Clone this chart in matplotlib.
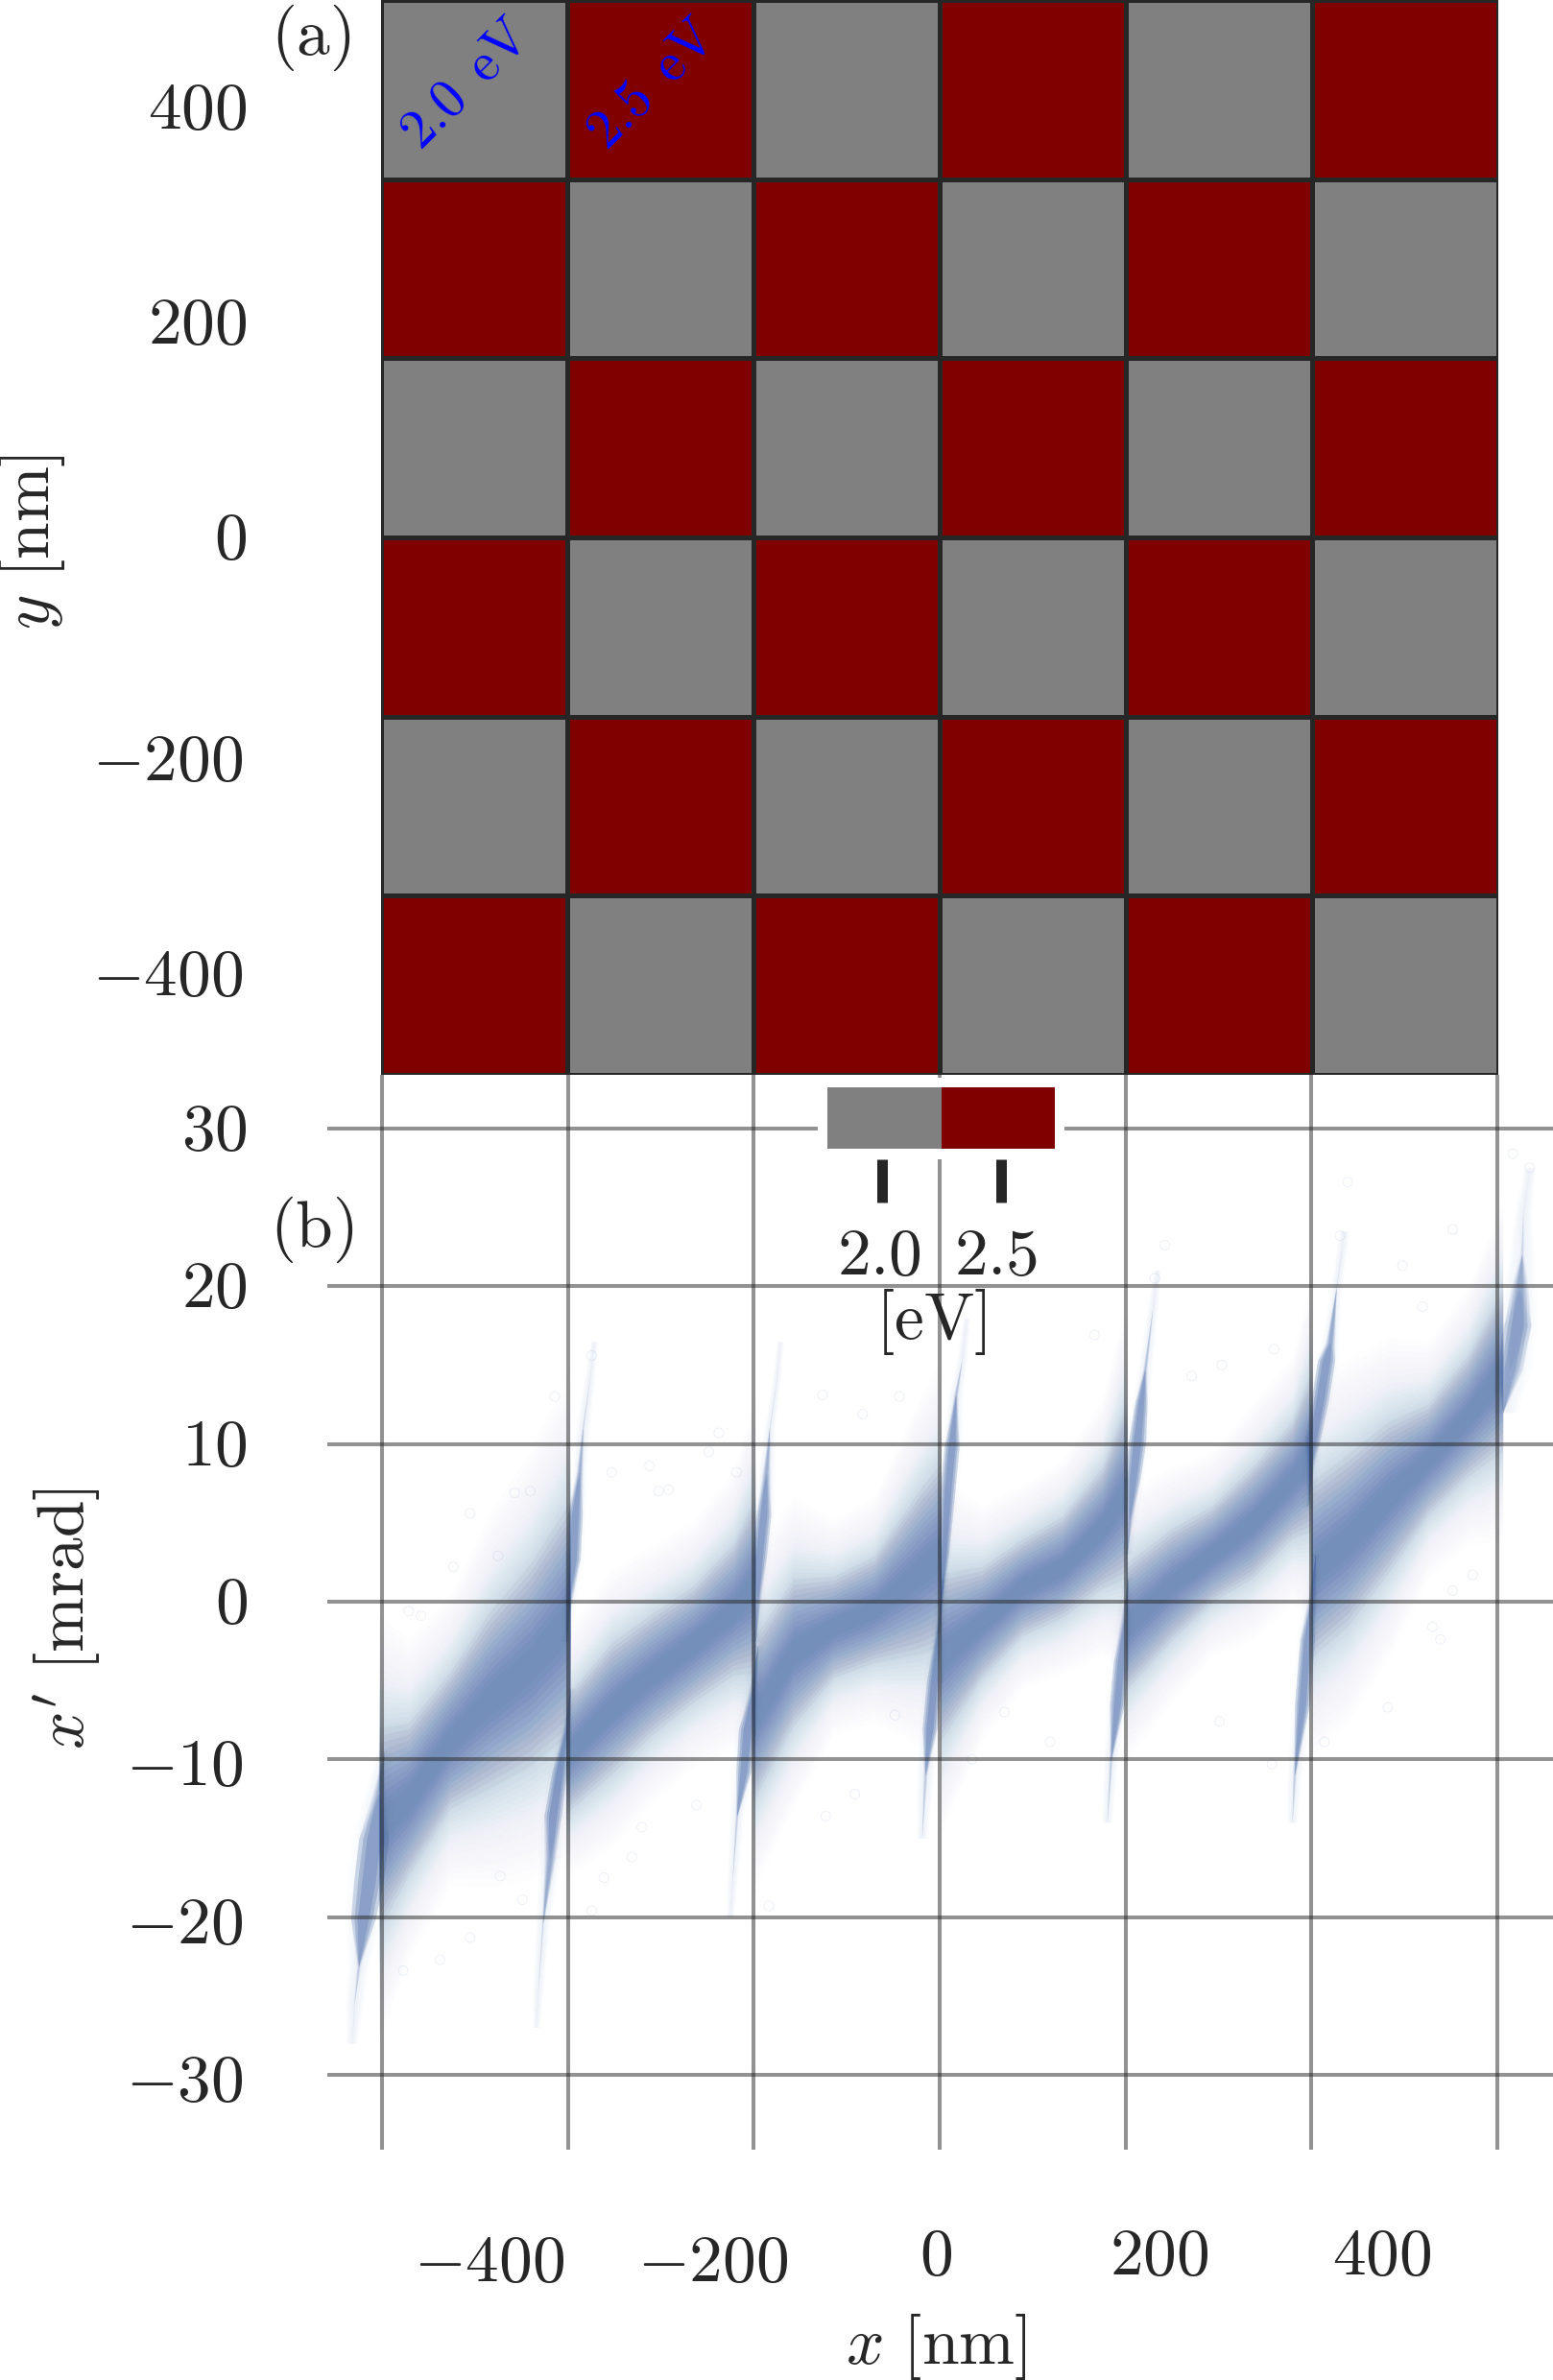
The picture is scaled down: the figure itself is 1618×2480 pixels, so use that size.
import numpy as np
import matplotlib
matplotlib.use("Agg")
import matplotlib.pyplot as plt
from matplotlib.colors import ListedColormap, BoundaryNorm

plt.rcParams['mathtext.fontset'] = 'cm'
plt.rcParams['font.family'] = ['DejaVu Serif']

W, H = 1618, 2480
DARK = '#262626'
BLUE = '#4c72b0'
FS = 50

# top panel
edges = [-500, -333.3, -166.7, 0, 166.7, 333.3, 500]
energies = [[2.5, 2.0, 2.5, 2.0, 2.5, 2.0],
            [2.0, 2.5, 2.0, 2.5, 2.0, 2.5],
            [2.5, 2.0, 2.5, 2.0, 2.5, 2.0],
            [2.0, 2.5, 2.0, 2.5, 2.0, 2.5],
            [2.5, 2.0, 2.5, 2.0, 2.5, 2.0],
            [2.0, 2.5, 2.0, 2.5, 2.0, 2.5]]
top_yticks = [400, 200, 0, -200, -400]
bot_xticks = [-400, -200, 0, 200, 400]
bot_yticks = [30, 20, 10, 0, -10, -20, -30]
cbar_ticks = [2.0, 2.5]

# lens bands: x [nm], centre [mrad], half width [mrad]
band_x = [[-503, -476, -439, -403, -367, -331],
          [-335, -294, -258, -221, -185, -165],
          [-168, -131, -95, -59, -16, 1],
          [1, 38, 74, 110, 146, 168],
          [167, 208, 244, 280, 316, 334],
          [333, 366, 402, 438, 474, 505]]
band_c = [[-14.4, -12.5, -8.8, -6.2, -4.0, -1.0],
          [-9.75, -6.76, -4.6, -2.7, -0.5, 1.1],
          [-7.6, -3.2, -1.6, -0.5, 2.0, 3.0],
          [-3.5, -1.3, 0.9, 2.2, 4.7, 7.1],
          [-1.6, 1.1, 3.0, 5.0, 7.7, 9.6],
          [2.0, 3.9, 6.6, 9.0, 11.8, 14.7]]
band_w = [[4.0, 3.0, 2.7, 3.5, 4.0, 4.6],
          [2.3, 2.6, 2.4, 2.3, 2.6, 3.5],
          [3.2, 2.9, 2.0, 2.1, 3.3, 3.6],
          [3.3, 2.2, 1.9, 2.0, 2.4, 3.5],
          [2.5, 2.2, 1.9, 2.2, 2.3, 3.2],
          [3.5, 3.4, 3.0, 2.2, 2.4, 3.2]]

# steep streaks at the cell edges: y [mrad], x [nm], half width [nm], how dense along the streak
streak_y = [[-28.0, -25.5, -23.1, -20.1, -17.7, -15.0, -12.2, -9.5],
            [-2.5, 0.0, 2.7, 5.5, 8.2, 11.0, 14.0, 16.5],
            [-27.0, -24.5, -20.4, -16.3, -13.6, -10.8, -8.1, -5.5],
            [-2.5, 0.0, 2.8, 5.5, 8.2, 11.0, 13.7, 16.5],
            [-20.0, -17.7, -13.6, -10.8, -8.1, -5.4, -2.8],
            [-2.0, 0.3, 3.0, 7.1, 9.85, 13.1, 15.3, 18.0],
            [-15.0, -11.0, -8.0, -5.0, -1.0, 1.5],
            [3.0, 5.2, 7.7, 10.1, 12.6, 14.7, 18.6, 21.0],
            [-14.0, -10.0, -6.5, -3.8, -1.0, 1.5],
            [6.0, 8.5, 10.1, 12.8, 15.3, 16.4, 19.9, 23.5],
            [-14.0, -11.0, -6.5, -2.4, 0.3, 3.0],
            [12.0, 14.7, 17.5, 19.9, 22.0, 24.5, 27.5]]
streak_x = [[-527, -525, -521, -517, -512, -507.5, -503, -498],
            [-335, -333, -329, -327, -323, -320, -314, -310],
            [-362, -360, -356, -349.5, -347, -341, -335, -331],
            [-165, -163.5, -162, -158, -155.5, -152.6, -147, -143],
            [-188, -186, -182, -176, -172.6, -167, -163],
            [-1, 1.1, 3.6, 7.2, 10.8, 14.4, 19.9, 24],
            [-16, -13, -9, -5, 0, 3],
            [168, 170, 173, 177, 180.5, 184, 191, 195],
            [150, 153.4, 159, 162.5, 166, 169],
            [330, 332, 334, 341, 346.6, 350, 355.6, 362.8],
            [316, 318, 325, 329.6, 334, 337],
            [505, 511, 518, 520, 522, 523, 529]]
streak_w = [[3, 5, 6, 10, 12, 12, 8, 4],
            [3, 4, 6, 6, 4, 4, 3, 2],
            [2, 3, 4, 6, 7, 6, 4, 3],
            [3, 4, 6, 6, 5, 3, 2.5, 2],
            [2, 3, 4, 6, 7, 5, 3],
            [2, 3, 4, 6, 6, 4, 3, 2],
            [3, 5, 6, 6, 4, 3],
            [3, 4, 6, 7, 5, 4, 3, 2],
            [3, 4, 6, 6, 5, 3],
            [4, 5, 6, 7, 7, 5, 3, 3],
            [3, 4, 6, 6, 5, 3],
            [8, 12, 11, 9, 7, 5, 3]]
streak_d = [[0, 0.1, 0.35, 1, 1, 1, 0.7, 0],
            [0, 0.8, 1, 1, 0.7, 0.25, 0.1, 0],
            [0, 0.08, 0.25, 0.8, 1, 1, 0.7, 0],
            [0, 0.7, 1, 1, 0.7, 0.2, 0.1, 0],
            [0, 0.1, 0.35, 1, 1, 0.7, 0],
            [0, 0.7, 1, 1, 1, 0.5, 0.1, 0],
            [0, 0.4, 1, 1, 0.6, 0],
            [0, 0.7, 1, 1, 1, 0.5, 0.1, 0],
            [0, 0.4, 1, 1, 0.7, 0],
            [0, 0.7, 1, 1, 1, 0.8, 0.15, 0],
            [0, 0.4, 1, 1, 0.7, 0],
            [0, 0.9, 1, 0.8, 0.25, 0.1, 0]]

# lone points that can be made out in the halo
lone_x = [-421, -476, -465, -436, -396, -381, -367, -345, -312, -294, -260, -252, -243, -207, -198,
          -182, -105, -69, -36, -448, -421, -481, -394, -374, -276, -267, -301, -218, -102, -76,
          -40, -153, -312, 139, 202, 193, 253, 226, 300, 366, 359, 415, 433, 460, 529,
          514, 58, 99, 251, 402, 449, 478, 460, 442, 345, 29, 298]
lone_y = [5.6, -0.6, -0.9, 2.2, 2.9, 6.9, 7.0, 13.0, 15.6, 8.2, 8.6, 7.0, 7.1, 9.5, 10.7,
          8.2, 13.1, 11.9, 13.0, -22.7, -21.3, -23.4, -17.4, -18.9, -16.2, -14.3, -17.5, -12.9, -13.6, -12.2,
          -7.2, -19.3, -19.6, 16.9, 22.6, 20.5, 15.0, 14.3, 16.0, 26.6, 23.2, 21.3, 18.7, 23.6, 27.5,
          28.4, -7.0, -8.9, -7.6, -6.7, -2.4, 1.7, 0.7, -1.6, -8.9, -10.0, -10.3]


def px_axes(x0, y0, x1, y1, **kw):
    return fig.add_axes([x0 / W, 1 - y1 / H, (x1 - x0) / W, (y1 - y0) / H], **kw)


def note(ax, txt, xy, coords, dx, dy, **kw):
    # dx, dy in image pixels
    return ax.annotate(txt, xy=xy, xycoords=coords, xytext=(dx, dy),
                       textcoords='offset pixels', fontsize=kw.pop('fontsize', FS),
                       color=kw.pop('color', DARK), annotation_clip=False, **kw)


def num(v):
    return r"$\mathrm{" + str(v) + "}$"


fig = plt.figure(figsize=(W / 100, H / 100), dpi=100)
cmap = ListedColormap(['#808080', '#800000'])
norm = BoundaryNorm([1.75, 2.25, 2.75], 2)

# panel (a)
ax_a = px_axes(397, 0, 1561, 1120, zorder=3)
ax_a.pcolormesh(edges, edges, energies, cmap=cmap, norm=norm, edgecolor=DARK, linewidth=2.2)
ax_a.set_xlim(-500, 500)
ax_a.set_ylim(-500, 500)
ax_a.axis('off')
for v in top_yticks:
    off = (-4, -10) if v < 0 else (0, -3)
    note(ax_a, num(v), (0, v), ('axes fraction', 'data'), -140 + off[0], off[1], ha='right', va='center')
ax_a.text(-424, 422, r"$\mathrm{2.0\ \,eV}$", color='blue', fontsize=41, rotation=45, ha='center', va='center')
ax_a.text(-257, 422, r"$\mathrm{2.5\ \,eV}$", color='blue', fontsize=41, rotation=45, ha='center', va='center')
fig.text(324 / W, 1 - 39 / H, r"$\mathrm{(a)}$", fontsize=FS, color=DARK, ha='center', va='center')
fig.text(33 / W, 1 - 565 / H, r"$y\ \mathrm{[nm]}$", fontsize=FS, color=DARK, rotation=90, ha='center', va='center')

# panel (b)
ax_b = px_axes(341, 1120, 1618, 2240, zorder=1)
ax_b.set_xlim(-549, 550)
ax_b.set_ylim(-34.75, 33.4)
for s in ax_b.spines.values():
    s.set_visible(False)

for x, c, w in zip(band_x, band_c, band_w):
    x, c, w = np.array(x), np.array(c), np.array(w)
    for f in np.linspace(0.3, 1.6, 12):
        ax_b.fill_between(x, c - f * w, c + f * w, color=BLUE, alpha=0.078, lw=0)
    for f in np.linspace(1.65, 2.3, 8):
        ax_b.fill_between(x, c - f * w, c + f * w, color=BLUE, alpha=0.022, lw=0)
    for f in np.linspace(2.4, 3.4, 8):
        ax_b.fill_between(x, c - f * w, c + f * w, color=BLUE, alpha=0.006, lw=0)

for y, x, w, d in zip(streak_y, streak_x, streak_w, streak_d):
    y, x, w, d = np.array(y), np.array(x), np.array(w), np.array(d)
    for f in np.linspace(0.5, 1.6, 6):
        ax_b.fill_betweenx(y, x - f * w, x + f * w, color=BLUE, alpha=0.012, lw=0)
    # each layer only covers the part of the streak denser than thr
    for thr in np.linspace(0, 0.9, 10):
        half = w * np.clip((d - thr) / (1 - thr), 0, 1)
        for f in [0.5, 0.8, 1.1]:
            ax_b.fill_betweenx(y, x - f * half, x + f * half, color=BLUE, alpha=0.028, lw=0)

ax_b.scatter(lone_x, lone_y, s=52, facecolors='none', edgecolors=BLUE, linewidths=0.7, alpha=0.1)

ax_b.set_xticks(edges)
ax_b.set_yticks(bot_yticks)
ax_b.tick_params(length=0, labelbottom=False, labelleft=False)
ax_b.grid(True, color=DARK, alpha=0.5, linewidth=2.9)
ax_b.set_axisbelow(False)
for v in bot_yticks:
    off = (-4, -8) if v < 0 else (0, -3)
    note(ax_b, num(v), (0, v), ('axes fraction', 'data'), -83 + off[0], off[1], ha='right', va='center')
for v in bot_xticks:
    note(ax_b, num(v), (v, 0), ('data', 'axes fraction'), -4, -85 if v < 0 else -78, ha='center', va='top')
fig.text(325 / W, 1 - 1281 / H, r"$\mathrm{(b)}$", fontsize=FS, color=DARK, ha='center', va='center')
fig.text(70 / W, 1 - 1687 / H, r"$x'\ \mathrm{[mrad]}$", fontsize=FS, color=DARK, rotation=90, ha='center', va='center')
fig.text(975 / W, 1 - 2445 / H, r"$x\ \mathrm{[nm]}$", fontsize=FS, color=DARK, ha='center', va='center')

# colour bar, white box over the grid
cax = px_axes(852, 1123, 1109, 1208, zorder=4)
cax.pcolormesh([1.77, 2.25, 2.726], [11, 75], [cbar_ticks], cmap=cmap, norm=norm)
cax.set_xlim(1.73, 2.766)
cax.set_ylim(0, 85)
for s in cax.spines.values():
    s.set_visible(False)
cax.set_yticks([])
cax.set_xticks(cbar_ticks)
cax.set_xticklabels([])
cax.tick_params(axis='x', length=32.4, width=7.9, color=DARK)
for v, dx in zip(cbar_ticks, [-3, -5]):
    note(cax, num(v), (v, 0), ('data', 'axes fraction'), dx, -68, ha='center', va='top')
fig.text(970 / W, 1 - 1378 / H, r"$\mathrm{[eV]}$", fontsize=FS, color=DARK, ha='center', va='center', zorder=5)

fig.savefig('out.png', dpi=100)
